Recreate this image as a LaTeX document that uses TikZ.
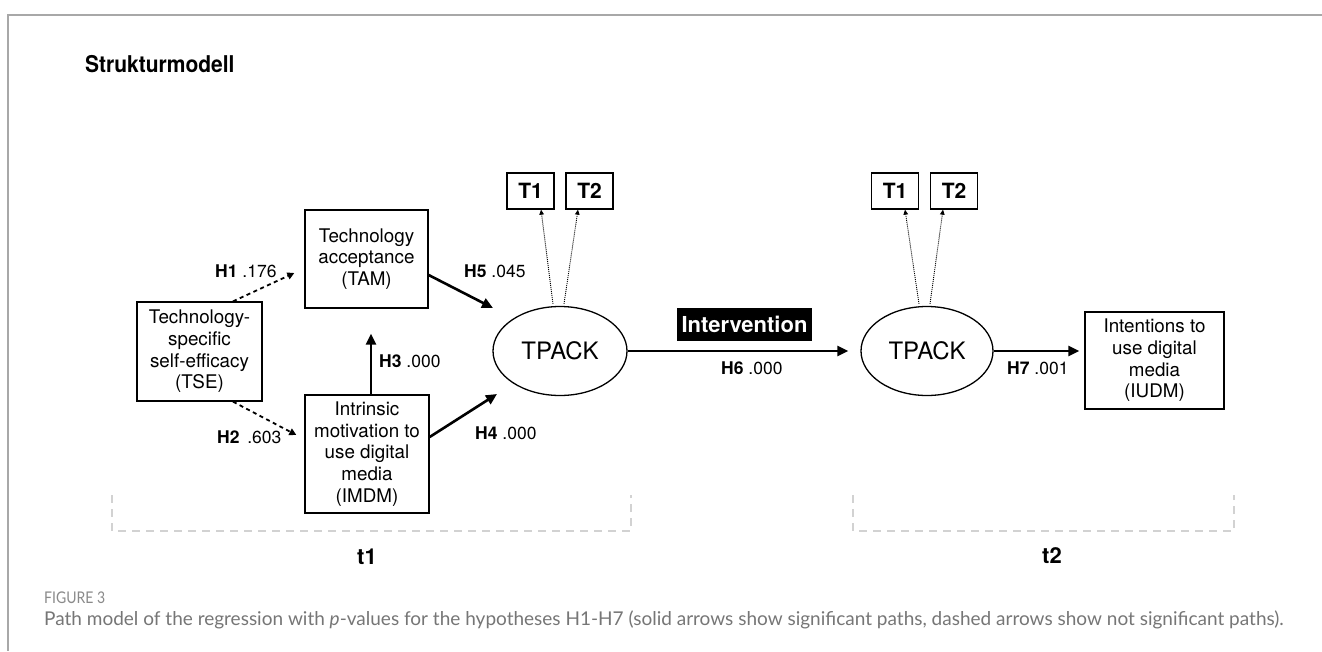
\documentclass[tikz,border=0pt]{standalone}
\usepackage{fontspec}
\setmainfont{TeX Gyre Heros}
\newfontfamily\capfont{Lato}
\usetikzlibrary{arrows.meta,calc,shapes.geometric}
\definecolor{framegray}{HTML}{A8A8A8}
\definecolor{brackgray}{HTML}{D2D2D2}
\definecolor{capgray}{HTML}{767676}
\definecolor{figgray}{HTML}{8A8A8A}
\begin{document}
\begin{tikzpicture}[x=1pt,y=-1pt,
  box/.style={draw, line width=1.3pt, inner sep=0pt, align=center, font=\fontsize{18.8}{21.7}\selectfont},
  tbox/.style={draw, line width=1.3pt, minimum width=47pt, minimum height=36pt, inner sep=0pt, font=\bfseries\fontsize{21}{24}\selectfont},
  lat/.style={ellipse, draw, line width=1.3pt, minimum width=134pt, minimum height=89pt, inner sep=0pt, font=\fontsize{24}{28}\selectfont},
  sig/.style={line width=2.6pt, -{Triangle[length=11pt,width=10pt]}},
  nsig/.style={line width=1.8pt, dash pattern=on 4pt off 3.5pt, -{Triangle[length=7pt,width=7pt]}},
  loadline/.style={line width=0.9pt, dash pattern=on 1pt off 1pt, -{Triangle[length=5pt,width=4.5pt]}},
  hl/.style={anchor=west, font=\fontsize{17.5}{20}\selectfont, inner sep=0pt},
  bracket/.style={draw=brackgray, line width=1.2pt, dash pattern=on 8pt off 6pt},
  tl/.style={anchor=base, inner sep=0pt, font=\bfseries\fontsize{22}{26}\selectfont}]
\useasboundingbox (0,0) rectangle (1322,651);
\fill[white] (0,0) rectangle (1322,651);
% frame
\draw[framegray, line width=1.5pt] (1322,15) -- (8,15) -- (8,651);
% title
\node[anchor=base west, inner sep=0pt, font=\bfseries\fontsize{21}{25}\selectfont] (title) at (85,72) {\scalebox{1}[1.1]{Strukturmodell}};
% boxes
\node[box, minimum width=125pt, minimum height=99pt] (tse) at (199.5,351.5) {Technology-\\specific\\self-efficacy\\(TSE)};
\node[box, minimum width=123pt, minimum height=98pt] (tam) at (366.5,259) {Technology\\acceptance\\(TAM)};
\node[box, minimum width=124pt, minimum height=118pt] (imdm) at (367,454) {Intrinsic\\motivation to\\use digital\\media\\(IMDM)};
\node[box, minimum width=139pt, minimum height=97pt] (iudm) at (1154.5,360.5) {Intentions to\\use digital\\media\\(IUDM)};
\node[lat] (tp1) at (560,351) {TPACK};
\node[lat, minimum width=132pt] (tp2) at (927,351) {TPACK};
\node[tbox] (t1a) at (530.5,191) {T1};
\node[tbox] (t2a) at (589.5,191) {T2};
\node[tbox] (t1b) at (895,191) {T1};
\node[tbox] (t2b) at (954,191) {T2};
\node[fill=black, text=white, font=\bfseries\fontsize{22}{25}\selectfont, minimum width=135pt, minimum height=33pt, inner sep=0pt] (interv) at (744.5,324.5) {Intervention};
% connectors
\draw[nsig] ($(tse.north)+(33.5,0)$) -- ($(tam.west)+(-10,14)$);
\draw[nsig] ($(tse.south)+(33.5,0)$) -- ($(imdm.west)+(-8,-19)$);
\draw[sig] ($(imdm.north)+(4,0)$) -- ($(tam.south)+(4.5,25)$);
\draw[sig] ($(imdm.east)+(0,-17)$) -- ($(tp1.center)+(-63,43)$);
\draw[sig] ($(tam.east)+(0,16)$) -- ($(tp1.center)+(-67,-43)$);
\draw[sig] (tp1.east) -- ($(tp2.west)+(-12,0)$);
\draw[sig] (tp2.east) -- ($(iudm.west)+(-5,-9.5)$);
\draw[loadline] ($(tp1.north)+(-7,-2)$) -- ($(t1a.south)+(10.5,0)$);
\draw[loadline] ($(tp1.north)+(4,-2)$) -- ($(t2a.south)+(-11.5,0)$);
\draw[loadline] ($(tp2.north)+(-8,-2)$) -- ($(t1b.south)+(10,0)$);
\draw[loadline] ($(tp2.north)+(3,-2)$) -- ($(t2b.south)+(-11,0)$);
% path labels
\node[hl] (lh1) at (215,271) {\textbf{H1} .176};
\node[hl] (lh2) at (217,437) {\textbf{H2}\, .603};
\node[hl] (lh3) at (379,361) {\textbf{H3} .000};
\node[hl] (lh4) at (475,433) {\textbf{H4} .000};
\node[hl] (lh5) at (464,271) {\textbf{H5} .045};
\node[hl] (lh6) at (721,368) {\textbf{H6} .000};
\node[hl] (lh7) at (1007,368) {\textbf{H7} .001};
% time brackets
\draw[bracket] (112,495) -- (112,531) -- (631,531) -- (631,495);
\draw[bracket] (853,495) -- (853,531) -- (1234,531) -- (1234,495);
\node[tl] (lt1) at (367,564) {t1};
\node[tl] (lt2) at (1052,563) {t2};
% caption
\node[anchor=base west, inner sep=0pt, font=\capfont\fontsize{14}{16}\selectfont, text=figgray] (fig) at (44,603) {\scalebox{1}[1.15]{FIGURE 3}};
\node[anchor=base west, inner sep=0pt, font=\capfont\fontsize{19}{22}\selectfont, text=capgray] (cap) at (44,625) {Path model of the regression with \textit{p}-values for the hypotheses H1-H7 (solid arrows show significant paths, dashed arrows show not significant paths).};
\end{tikzpicture}
\end{document}
